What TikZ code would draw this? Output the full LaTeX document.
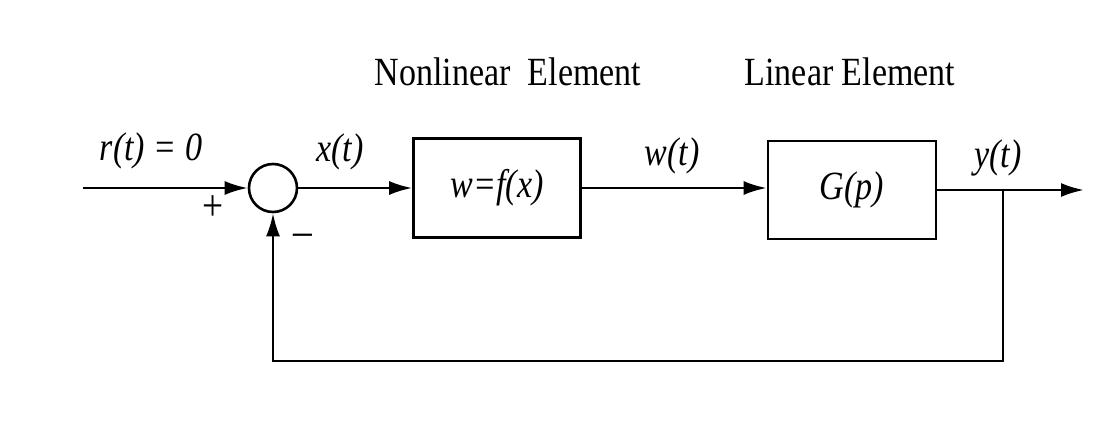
\documentclass[tikz,border=0pt]{standalone}
\usepackage{fontspec}
\setmainfont{Liberation Serif}[FakeStretch=0.85]
\usetikzlibrary{arrows.meta}
\begin{document}
\begin{tikzpicture}[x=1pt,y=-1pt,
  lbl/.style={font=\fontsize{40}{46}\selectfont\itshape, inner sep=0pt},
  ttl/.style={font=\fontsize{40}{46}\selectfont, inner sep=0pt},
  sgn/.style={font=\fontsize{44}{50}\selectfont, inner sep=0pt},
  blk/.style={draw, line width=2.6pt, rectangle, font=\fontsize{40}{46}\selectfont\itshape, inner sep=0pt},
  sumc/.style={draw, line width=2.6pt, circle, inner sep=0pt, minimum size=48pt},
  conn/.style={line width=2.6pt},
  arr/.style={conn, -{Latex[length=23pt,width=14pt]}}]
\useasboundingbox (0,0) rectangle (1108,423);
\node[sumc] (sum) at (273,188) {};
\node[blk, minimum width=167pt, minimum height=99pt] (nl) at (497,188) {w=f(x)};
\node[blk, minimum width=168pt, minimum height=98pt] (lin) at (852,190) {G(p)};
\coordinate (in) at (83,188);
\coordinate (out) at (1084,190);
\coordinate (br) at (1003,190);
\coordinate (bl) at (1003,361);
\draw[arr] (in) -- (sum.west);
\draw[arr] (sum.east) -- (nl.west);
\draw[arr] (nl.east) -- (nl.east -| lin.west);
\draw[arr] (lin.east) -- (out);
\draw[arr] (br) -- (bl) -- (sum.south |- bl) -- (sum.south);
\node[lbl] (rl) at (151,151) {r(t) = 0};
\node[lbl] (xl) at (340,152) {x(t)};
\node[lbl] (wl) at (672,156) {w(t)};
\node[lbl] (yl) at (998,158) {y(t)};
\node[sgn] (plus) at (213,208) {+};
\node[sgn] (minus) at (303,240) {\textendash};
\node[ttl] (t1) at (508,72) {Nonlinear\ \ Element};
\node[ttl] (t2) at (850,72) {Linear Element};
\end{tikzpicture}
\end{document}
